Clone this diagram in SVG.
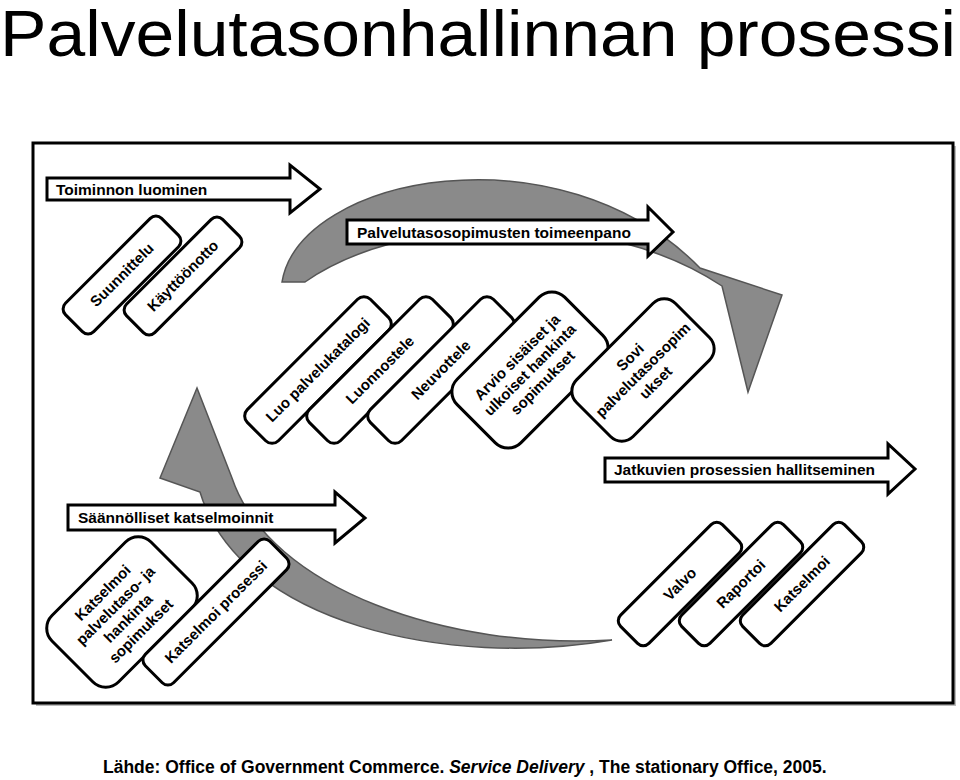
<svg xmlns="http://www.w3.org/2000/svg" width="960" height="780" viewBox="0 0 960 780">
<defs>
<style>
.box{fill:#fff;stroke:#000;stroke-width:3}
.bt{font-family:"Liberation Sans",Arial,sans-serif;font-weight:bold;font-size:15px;text-anchor:middle;fill:#000}
.ar{fill:#fff;stroke:#000;stroke-width:3}
.at{font-family:"Liberation Sans",Arial,sans-serif;font-weight:bold;font-size:15.5px;fill:#000}
.big{fill:#8a8a8a;stroke:#555;stroke-width:1.5}
.ft{font-family:"Liberation Sans",Arial,sans-serif;font-weight:bold;font-size:17.5px}
</style>
</defs>
<rect width="960" height="780" fill="#fff"/>
<text x="0" y="56" font-family="'Liberation Sans',sans-serif" font-size="64" textLength="956" lengthAdjust="spacingAndGlyphs">Palvelutasonhallinnan prosessi</text>
<rect x="36" y="146" width="920" height="560" fill="#bbb"/>
<rect x="33" y="143" width="920" height="560" fill="#fff" stroke="#000" stroke-width="3"/>
<g id="connectors">
<path class="big" d="M282,282 C300,175 560,125 700,268 L782,295 L748,392 L722,286 C600,205 400,215 305,282 Z"/>
<path class="big" d="M612,640 C450,668 240,625 200,492 L160,478 L197,388 L232,478 C270,590 450,650 612,640 Z"/>
</g>
<g id="a1"><path class="ar" d="M47,178 H290 V165 L320,189 L290,213 V200 H47 Z"/><text class="at" x="56" y="195">Toiminnon luominen</text></g>
<g id="a2"><path class="ar" d="M347,220 H648 V207 L673,232 L648,256 V244 H347 Z"/><text class="at" x="357" y="238">Palvelutasosopimusten toimeenpano</text></g>
<g id="a3"><path class="ar" d="M605,458 H888 V444 L915,469 L888,494 V482 H605 Z"/><text class="at" x="614" y="475">Jatkuvien prosessien hallitseminen</text></g>
<g id="a4"><path class="ar" d="M68,505 H335 V492 L365,518 L335,543 V530 H68 Z"/><text class="at" x="78" y="523">Säännölliset katselmoinnit</text></g>
<g id="n1" transform="translate(122,275) rotate(-45)"><rect class="box" x="-68" y="-20" width="136" height="40" rx="8"/><text class="bt" y="5">Suunnittelu</text></g>
<g id="n2" transform="translate(183,276) rotate(-45)"><rect class="box" x="-68" y="-20" width="136" height="40" rx="8"/><text class="bt" y="5">Käyttöönotto</text></g>
<g id="n3" transform="translate(318,370) rotate(-45)"><rect class="box" x="-87" y="-22" width="174" height="44" rx="9"/><text class="bt" y="5">Luo palvelukatalogi</text></g>
<g id="n4" transform="translate(380,370) rotate(-45)"><rect class="box" x="-87" y="-22" width="174" height="44" rx="9"/><text class="bt" y="5">Luonnostele</text></g>
<g id="n5" transform="translate(441,370) rotate(-45)"><rect class="box" x="-87" y="-22" width="174" height="44" rx="9"/><text class="bt" y="5">Neuvottele</text></g>
<g id="n6" transform="translate(530,370) rotate(-45)"><rect class="box" x="-76" y="-45" width="152" height="90" rx="18"/><text class="bt" y="-13">Arvio sisäiset ja</text><text class="bt" y="5">ulkoiset hankinta</text><text class="bt" y="23">sopimukset</text></g>
<g id="n7" transform="translate(643,370) rotate(-45)"><rect class="box" x="-70" y="-40" width="140" height="80" rx="16"/><text class="bt" y="-13">Sovi</text><text class="bt" y="5">palvelutasosopim</text><text class="bt" y="23">ukset</text></g>
<g id="n8" transform="translate(680,584) rotate(-45)"><rect class="box" x="-72" y="-20" width="144" height="40" rx="8"/><text class="bt" y="5">Valvo</text></g>
<g id="n9" transform="translate(741,584) rotate(-45)"><rect class="box" x="-72" y="-20" width="144" height="40" rx="8"/><text class="bt" y="5">Raportoi</text></g>
<g id="n10" transform="translate(802,584) rotate(-45)"><rect class="box" x="-72" y="-20" width="144" height="40" rx="8"/><text class="bt" y="5">Katselmoi</text></g>
<g id="n11" transform="translate(122,612) rotate(-45)"><rect class="box" x="-70" y="-47" width="140" height="94" rx="18"/><text class="bt" y="-22">Katselmoi</text><text class="bt" y="-4">palvelutaso- ja</text><text class="bt" y="14">hankinta</text><text class="bt" y="32">sopimukset</text></g>
<g id="n12" transform="translate(216,612) rotate(-45)"><rect class="box" x="-88" y="-20" width="176" height="40" rx="8"/><text class="bt" y="5">Katselmoi prosessi</text></g>
<text class="ft" x="103" y="773">Lähde: Office of Government Commerce. <tspan font-style="italic">Service Delivery</tspan> , The stationary Office, 2005.</text>
</svg>
